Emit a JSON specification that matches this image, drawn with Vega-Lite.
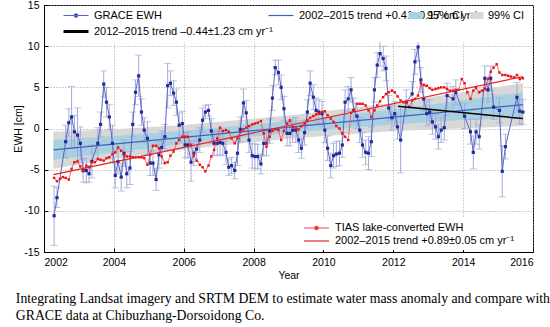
{
  "$schema": "https://vega.github.io/schema/vega-lite/v6.json",
  "width": 489,
  "height": 247,
  "autosize": {"type": "none"},
  "padding": {"left": 44, "top": 5, "right": 17, "bottom": 75},
  "background": "white",
  "view": {"stroke": "black", "strokeWidth": 1},
  "config": {
    "font": "Liberation Sans",
    "axis": {"labelFont": "Liberation Sans", "labelFontSize": 10.5, "labelColor": "black", "titleFont": "Liberation Sans", "titleFontSize": 10.5, "titleFontWeight": "normal", "titleColor": "black", "domainColor": "black", "tickColor": "black", "tickSize": -4, "labelPadding": 9, "grid": true, "gridColor": "#a0a0a0", "gridDash": [1, 2], "gridWidth": 1}
  },
  "title": {
    "text": ["Integrating Landsat imagery and SRTM DEM to estimate water mass anomaly and compare with", "GRACE data at Chibuzhang-Dorsoidong Co."],
    "orient": "bottom", "anchor": "start", "dx": 2, "offset": 11,
    "font": "Liberation Serif", "fontSize": 13.75, "fontWeight": "normal", "color": "black", "lineHeight": 17
  },
  "datasets": {
    "grace": [
      {"t":2002.29,"v":-10.6,"e":3.6},{"t":2002.37,"v":-8.4,"e":1.2},{"t":2002.62,"v":-1.6,"e":2.0},{"t":2002.71,"v":0.7,"e":1.7},{"t":2002.79,"v":1.4,"e":3.7},{"t":2002.87,"v":-0.4,"e":2.0},{"t":2002.96,"v":-0.8,"e":3.3},
      {"t":2003.04,"v":-1.8,"e":2.0},{"t":2003.12,"v":-5.1,"e":1.4},{"t":2003.21,"v":-5.1,"e":1.5},{"t":2003.29,"v":-5.5,"e":1.0},{"t":2003.37,"v":-4.0,"e":2.0},{"t":2003.54,"v":-1.8,"e":1.9},{"t":2003.62,"v":0.5,"e":1.5},{"t":2003.71,"v":5.4,"e":1.6},{"t":2003.79,"v":3.2,"e":1.8},{"t":2003.87,"v":1.4,"e":1.5},{"t":2003.96,"v":-1.8,"e":2.2},
      {"t":2004.04,"v":-5.7,"e":1.5},{"t":2004.12,"v":-4.0,"e":1.5},{"t":2004.21,"v":-5.9,"e":1.7},{"t":2004.29,"v":-3.0,"e":1.6},{"t":2004.37,"v":-5.5,"e":1.7},{"t":2004.46,"v":-4.8,"e":2.0},{"t":2004.54,"v":0.5,"e":1.5},{"t":2004.62,"v":4.4,"e":1.5},{"t":2004.71,"v":6.4,"e":2.5},{"t":2004.79,"v":2.0,"e":1.6},{"t":2004.87,"v":-0.2,"e":1.5},{"t":2004.96,"v":-1.2,"e":2.0},
      {"t":2005.04,"v":-4.2,"e":1.5},{"t":2005.12,"v":-4.2,"e":1.5},{"t":2005.21,"v":-6.2,"e":1.3},{"t":2005.29,"v":-3.2,"e":1.6},{"t":2005.37,"v":-2.3,"e":2.0},{"t":2005.46,"v":-1.0,"e":1.5},{"t":2005.54,"v":5.2,"e":2.7},{"t":2005.62,"v":5.5,"e":1.5},{"t":2005.71,"v":4.3,"e":1.5},{"t":2005.79,"v":3.2,"e":1.6},{"t":2005.87,"v":0.4,"e":1.5},{"t":2005.96,"v":0.6,"e":1.5},
      {"t":2006.04,"v":-2.0,"e":1.5},{"t":2006.12,"v":-2.0,"e":1.6},{"t":2006.21,"v":-4.1,"e":2.3},{"t":2006.29,"v":-3.0,"e":1.5},{"t":2006.37,"v":-2.5,"e":1.5},{"t":2006.46,"v":-1.4,"e":1.5},{"t":2006.54,"v":1.0,"e":1.5},{"t":2006.62,"v":2.0,"e":0.8},{"t":2006.71,"v":2.2,"e":0.7},{"t":2006.79,"v":-0.3,"e":1.5},{"t":2006.87,"v":-1.8,"e":1.5},{"t":2006.96,"v":-1.8,"e":1.5},
      {"t":2007.04,"v":-1.7,"e":1.5},{"t":2007.12,"v":-1.8,"e":1.5},{"t":2007.21,"v":-2.9,"e":1.5},{"t":2007.29,"v":-4.7,"e":1.0},{"t":2007.37,"v":-4.5,"e":1.0},{"t":2007.46,"v":-5.1,"e":1.0},{"t":2007.54,"v":-3.0,"e":1.5},{"t":2007.62,"v":-0.1,"e":1.5},{"t":2007.71,"v":3.1,"e":1.7},{"t":2007.79,"v":1.9,"e":1.5},{"t":2007.87,"v":-1.4,"e":1.5},{"t":2007.96,"v":-3.3,"e":1.5},
      {"t":2008.04,"v":-3.4,"e":1.5},{"t":2008.12,"v":-3.4,"e":1.5},{"t":2008.21,"v":-4.3,"e":1.2},{"t":2008.29,"v":-1.8,"e":1.5},{"t":2008.37,"v":-1.8,"e":1.5},{"t":2008.46,"v":-0.3,"e":1.5},{"t":2008.54,"v":3.7,"e":1.5},{"t":2008.62,"v":7.4,"e":0.9},{"t":2008.71,"v":6.8,"e":1.5},{"t":2008.79,"v":5.0,"e":1.5},{"t":2008.87,"v":2.4,"e":1.5},{"t":2008.96,"v":-0.6,"e":1.5},
      {"t":2009.04,"v":-0.6,"e":1.5},{"t":2009.12,"v":-0.2,"e":1.5},{"t":2009.21,"v":-0.2,"e":1.5},{"t":2009.29,"v":-1.4,"e":1.5},{"t":2009.37,"v":-2.4,"e":1.2},{"t":2009.46,"v":-0.5,"e":1.5},{"t":2009.54,"v":2.0,"e":1.5},{"t":2009.62,"v":5.5,"e":1.5},{"t":2009.71,"v":3.8,"e":1.5},{"t":2009.79,"v":2.2,"e":1.5},{"t":2009.87,"v":2.0,"e":1.5},{"t":2009.96,"v":1.8,"e":1.5},
      {"t":2010.04,"v":-0.2,"e":1.5},{"t":2010.12,"v":-2.4,"e":1.5},{"t":2010.21,"v":-4.5,"e":1.5},{"t":2010.29,"v":-3.3,"e":1.5},{"t":2010.37,"v":-3.1,"e":1.5},{"t":2010.46,"v":-3.0,"e":1.5},{"t":2010.54,"v":-2.0,"e":1.5},{"t":2010.62,"v":3.2,"e":1.5},{"t":2010.71,"v":3.6,"e":1.5},{"t":2010.79,"v":4.7,"e":1.5},{"t":2010.87,"v":2.2,"e":1.5},{"t":2010.96,"v":1.5,"e":1.5},
      {"t":2011.04,"v":-0.2,"e":1.5},{"t":2011.12,"v":-2.0,"e":1.5},{"t":2011.21,"v":-2.9,"e":1.5},{"t":2011.29,"v":-3.0,"e":2.0},{"t":2011.37,"v":-1.6,"e":1.8},{"t":2011.46,"v":4.7,"e":1.5},{"t":2011.54,"v":7.7,"e":1.5},{"t":2011.62,"v":9.1,"e":1.5},{"t":2011.71,"v":8.5,"e":1.5},{"t":2011.79,"v":7.3,"e":1.5},{"t":2011.87,"v":2.5,"e":1.5},{"t":2011.96,"v":1.3,"e":1.5},
      {"t":2012.04,"v":1.8,"e":1.5},{"t":2012.12,"v":0.2,"e":1.5},{"t":2012.21,"v":-1.4,"e":4.0},{"t":2012.37,"v":3.2,"e":1.5},{"t":2012.54,"v":4.2,"e":1.5},{"t":2012.62,"v":8.1,"e":1.5},{"t":2012.71,"v":9.9,"e":1.7},{"t":2012.79,"v":5.9,"e":1.5},{"t":2012.87,"v":3.6,"e":1.5},{"t":2012.96,"v":1.8,"e":1.5},
      {"t":2013.04,"v":2.0,"e":1.5},{"t":2013.12,"v":0.8,"e":1.5},{"t":2013.21,"v":0.2,"e":1.5},{"t":2013.29,"v":-1.0,"e":1.5},{"t":2013.37,"v":-0.2,"e":1.5},{"t":2013.46,"v":0.1,"e":1.5},{"t":2013.54,"v":4.0,"e":1.5},{"t":2013.71,"v":3.6,"e":1.5},{"t":2013.79,"v":4.4,"e":1.5},
      {"t":2014.04,"v":1.5,"e":1.5},{"t":2014.21,"v":-0.4,"e":1.5},{"t":2014.29,"v":-2.9,"e":2.0},{"t":2014.37,"v":-0.4,"e":1.5},{"t":2014.46,"v":-1.0,"e":1.5},{"t":2014.62,"v":6.1,"e":1.5},{"t":2014.71,"v":4.7,"e":1.5},{"t":2014.79,"v":6.1,"e":1.5},{"t":2014.87,"v":2.6,"e":1.5},
      {"t":2015.04,"v":2.2,"e":1.5},{"t":2015.12,"v":-5.2,"e":3.1},{"t":2015.21,"v":-2.2,"e":1.5},{"t":2015.54,"v":3.8,"e":1.8},{"t":2015.62,"v":2.1,"e":1.5},{"t":2015.71,"v":2.0,"e":1.5}
    ],
    "tias": [
      {"t":2002.29,"v":-6.0},{"t":2002.37,"v":-6.4},{"t":2002.46,"v":-6.1},{"t":2002.54,"v":-5.9},{"t":2002.62,"v":-6.0},{"t":2002.71,"v":-6.2},{"t":2002.79,"v":-4.9},{"t":2002.87,"v":-4.1},{"t":2002.96,"v":-4.0},
      {"t":2003.04,"v":-4.6},{"t":2003.12,"v":-5.2},{"t":2003.21,"v":-4.5},{"t":2003.29,"v":-4.7},{"t":2003.37,"v":-4.1},{"t":2003.46,"v":-4.1},{"t":2003.54,"v":-3.7},{"t":2003.62,"v":-3.8},{"t":2003.71,"v":-3.9},{"t":2003.79,"v":-3.6},{"t":2003.87,"v":-3.5},{"t":2003.96,"v":-3.1},
      {"t":2004.04,"v":-2.9},{"t":2004.12,"v":-2.3},{"t":2004.21,"v":-2.7},{"t":2004.29,"v":-3.2},{"t":2004.37,"v":-3.4},{"t":2004.46,"v":-3.4},{"t":2004.54,"v":-3.5},{"t":2004.62,"v":-3.5},{"t":2004.71,"v":-3.5},{"t":2004.79,"v":-3.5},{"t":2004.87,"v":-3.6},{"t":2004.96,"v":-4.4},
      {"t":2005.04,"v":-3.2},{"t":2005.12,"v":-2.1},{"t":2005.21,"v":-2.1},{"t":2005.29,"v":-2.4},{"t":2005.37,"v":-3.4},{"t":2005.46,"v":-4.2},{"t":2005.54,"v":-4.1},{"t":2005.62,"v":-3.3},{"t":2005.71,"v":-2.8},{"t":2005.79,"v":-1.8},{"t":2005.87,"v":-1.4},{"t":2005.96,"v":-1.0},
      {"t":2006.04,"v":-1.0},{"t":2006.12,"v":-1.0},{"t":2006.21,"v":-2.0},{"t":2006.29,"v":-3.3},{"t":2006.37,"v":-3.9},{"t":2006.46,"v":-4.4},{"t":2006.54,"v":-4.7},{"t":2006.62,"v":-5.2},{"t":2006.71,"v":-4.5},{"t":2006.79,"v":-3.4},{"t":2006.87,"v":-2.6},{"t":2006.96,"v":-1.2},
      {"t":2007.04,"v":0.1},{"t":2007.12,"v":-0.3},{"t":2007.21,"v":-0.2},{"t":2007.29,"v":-0.4},{"t":2007.37,"v":-1.2},{"t":2007.46,"v":-1.8},{"t":2007.54,"v":-1.2},{"t":2007.62,"v":-0.4},{"t":2007.71,"v":-0.1},{"t":2007.79,"v":0.1},{"t":2007.87,"v":0.3},{"t":2007.96,"v":0.5},
      {"t":2008.04,"v":0.6},{"t":2008.12,"v":0.7},{"t":2008.21,"v":0.9},{"t":2008.29,"v":-0.6},{"t":2008.37,"v":-2.2},{"t":2008.46,"v":-1.0},{"t":2008.54,"v":-0.3},{"t":2008.62,"v":-0.1},{"t":2008.71,"v":-0.2},{"t":2008.79,"v":-1.4},{"t":2008.87,"v":-0.3},{"t":2008.96,"v":0.6},
      {"t":2009.04,"v":1.0},{"t":2009.12,"v":0.2},{"t":2009.21,"v":0.0},{"t":2009.29,"v":-0.1},{"t":2009.37,"v":0.3},{"t":2009.46,"v":0.6},{"t":2009.54,"v":1.0},{"t":2009.62,"v":1.3},{"t":2009.71,"v":1.5},{"t":2009.79,"v":1.7},{"t":2009.87,"v":1.8},{"t":2009.96,"v":2.0},
      {"t":2010.04,"v":2.1},{"t":2010.12,"v":1.6},{"t":2010.21,"v":1.2},{"t":2010.29,"v":0.8},{"t":2010.37,"v":0.3},{"t":2010.46,"v":0.0},{"t":2010.54,"v":-0.6},{"t":2010.62,"v":-1.0},{"t":2010.71,"v":-1.4},{"t":2010.79,"v":1.9},{"t":2010.87,"v":2.2},{"t":2010.96,"v":3.0},
      {"t":2011.04,"v":3.0},{"t":2011.12,"v":3.0},{"t":2011.21,"v":2.8},{"t":2011.29,"v":2.2},{"t":2011.37,"v":1.4},{"t":2011.46,"v":2.2},{"t":2011.54,"v":2.8},{"t":2011.62,"v":3.3},{"t":2011.71,"v":3.8},{"t":2011.79,"v":4.2},{"t":2011.87,"v":4.4},{"t":2011.96,"v":4.6},
      {"t":2012.04,"v":4.4},{"t":2012.12,"v":3.9},{"t":2012.21,"v":3.4},{"t":2012.29,"v":3.2},{"t":2012.37,"v":3.2},{"t":2012.46,"v":2.6},{"t":2012.54,"v":3.4},{"t":2012.62,"v":3.6},{"t":2012.71,"v":4.0},{"t":2012.79,"v":5.5},{"t":2012.87,"v":5.3},{"t":2012.96,"v":5.2},
      {"t":2013.04,"v":4.9},{"t":2013.12,"v":4.7},{"t":2013.21,"v":4.8},{"t":2013.29,"v":4.9},{"t":2013.37,"v":5.0},{"t":2013.46,"v":5.0},{"t":2013.54,"v":4.8},{"t":2013.62,"v":4.6},{"t":2013.71,"v":4.6},{"t":2013.79,"v":4.7},{"t":2013.87,"v":4.7},{"t":2013.96,"v":6.0},
      {"t":2014.04,"v":5.5},{"t":2014.12,"v":4.4},{"t":2014.21,"v":3.6},{"t":2014.29,"v":4.6},{"t":2014.37,"v":4.9},{"t":2014.46,"v":4.4},{"t":2014.54,"v":4.6},{"t":2014.62,"v":4.8},{"t":2014.71,"v":6.0},{"t":2014.79,"v":6.9},{"t":2014.87,"v":7.4},{"t":2014.96,"v":7.8},
      {"t":2015.04,"v":6.8},{"t":2015.12,"v":6.5},{"t":2015.21,"v":6.5},{"t":2015.29,"v":6.4},{"t":2015.37,"v":6.3},{"t":2015.46,"v":6.2},{"t":2015.54,"v":6.5},{"t":2015.62,"v":6.0},{"t":2015.71,"v":6.1}
    ],
    "bands": [
      {"t":2002.27,"lo95":-3.8,"hi95":-1.4,"lo99":-4.9,"hi99":-0.4},
      {"t":2004.0,"lo95":-2.9,"hi95":-0.9,"lo99":-3.7,"hi99":-0.1},
      {"t":2006.0,"lo95":-1.86,"hi95":-0.26,"lo99":-2.56,"hi99":0.44},
      {"t":2009.0,"lo95":-0.53,"hi95":0.87,"lo99":-1.23,"hi99":1.57},
      {"t":2012.0,"lo95":0.5,"hi95":2.3,"lo99":-0.3,"hi99":3.1},
      {"t":2014.0,"lo95":1.02,"hi95":3.42,"lo99":0.02,"hi99":4.42},
      {"t":2015.71,"lo95":1.4,"hi95":4.4,"lo99":0.3,"hi99":5.5}
    ]
  },
  "layer": [
    {
      "data": {"name": "bands"},
      "mark": {"type": "area", "color": "#d8d8d8", "opacity": 1},
      "encoding": {
        "x": {"field": "t", "type": "quantitative", "title": "Year", "scale": {"domain": [2002, 2016], "nice": false, "zero": false},
              "axis": {"values": [2002, 2004, 2006, 2008, 2010, 2012, 2014, 2016], "labelExpr": "datum.value + ''", "titlePadding": 3}},
        "y": {"field": "lo99", "type": "quantitative", "title": "EWH [cm]", "scale": {"domain": [-15, 15], "nice": false, "zero": false},
              "axis": {"values": [-15, -10, -5, 0, 5, 10, 15], "labelExpr": "datum.value + ''", "titlePadding": 0}},
        "y2": {"field": "hi99"}
      }
    },
    {
      "data": {"name": "bands"},
      "mark": {"type": "area", "color": "#a8d0e0", "opacity": 1},
      "encoding": {
        "x": {"field": "t", "type": "quantitative", "title": "Year"},
        "y": {"field": "lo95", "type": "quantitative", "title": "EWH [cm]"},
        "y2": {"field": "hi95"}
      }
    },
    {
      "data": {"name": "grace"},
      "mark": {"type": "errorbar", "color": "#a3a9d6", "thickness": 1, "ticks": {"size": 7}},
      "encoding": {
        "x": {"field": "t", "type": "quantitative", "title": "Year"},
        "y": {"field": "v", "type": "quantitative", "title": "EWH [cm]"},
        "yError": {"field": "e"}
      }
    },
    {
      "data": {"name": "grace"},
      "mark": {"type": "line", "strokeWidth": 1},
      "encoding": {
        "x": {"field": "t", "type": "quantitative", "title": "Year"},
        "y": {"field": "v", "type": "quantitative", "title": "EWH [cm]"},
        "color": {"datum": "GRACE EWH", "type": "nominal",
          "scale": {"domain": ["GRACE EWH", "2002–2015 trend +0.41±0.17 cm yr⁻¹", "2012–2015 trend –0.44±1.23 cm yr⁻¹"],
                    "range": ["#5a66c6", "#3f62c2", "#000000"]},
          "legend": {
            "orient": "none", "legendX": 15, "legendY": 1, "direction": "horizontal", "columns": 2, "gridAlign": "none",
            "title": null, "labelFont": "Liberation Sans", "labelFontSize": 11, "labelColor": "black", "labelLimit": 400,
            "symbolSize": 100, "labelOffset": 20, "columnPadding": -7, "rowPadding": 4, "fillColor": "white", "padding": 4,
            "encode": {"symbols": {"update": {
              "shape": {"signal": "datum.value === 'GRACE EWH' ? 'M-1,0H4M1.15,0A0.35,0.35,0,1,0,1.85,0A0.35,0.35,0,1,0,1.15,0Z' : 'M-1,0H4'"},
              "size": {"value": 100},
              "fill": {"signal": "datum.value === 'GRACE EWH' ? '#1f2a9a' : 'transparent'"},
              "stroke": {"signal": "datum.value === 'GRACE EWH' ? '#5a66c6' : datum.value === '2012–2015 trend –0.44±1.23 cm yr⁻¹' ? '#000000' : '#3f62c2'"},
              "strokeWidth": {"signal": "datum.value === '2012–2015 trend –0.44±1.23 cm yr⁻¹' ? 3 : 1.2"},
              "opacity": {"value": 1}
            }}}
          }}
      }
    },
    {
      "data": {"values": [{"t": 2002.27, "v": -2.6}, {"t": 2015.71, "v": 2.9}]},
      "mark": {"type": "line", "strokeWidth": 1.2},
      "encoding": {
        "x": {"field": "t", "type": "quantitative", "title": "Year"},
        "y": {"field": "v", "type": "quantitative", "title": "EWH [cm]"},
        "color": {"datum": "2002–2015 trend +0.41±0.17 cm yr⁻¹", "type": "nominal", "legend": null}
      }
    },
    {
      "data": {"name": "grace"},
      "mark": {"type": "square", "size": 10, "color": "#1f2a9a", "opacity": 1},
      "encoding": {
        "x": {"field": "t", "type": "quantitative", "title": "Year"},
        "y": {"field": "v", "type": "quantitative", "title": "EWH [cm]"}
      }
    },
    {
      "data": {"name": "tias"},
      "mark": {"type": "line", "strokeWidth": 0.8},
      "encoding": {
        "x": {"field": "t", "type": "quantitative", "title": "Year"},
        "y": {"field": "v", "type": "quantitative", "title": "EWH [cm]"},
        "stroke": {"datum": "TIAS lake-converted EWH", "type": "nominal",
          "scale": {"domain": ["TIAS lake-converted EWH", "2002–2015 trend +0.89±0.05 cm yr⁻¹"], "range": ["#f04848", "#e82020"]},
          "legend": {
            "orient": "none", "legendX": 255, "legendY": 213, "direction": "vertical",
            "title": null, "labelFont": "Liberation Sans", "labelFontSize": 11, "labelColor": "black", "labelLimit": 400,
            "symbolSize": 100, "labelOffset": 20, "rowPadding": 2, "fillColor": "white", "padding": 4,
            "encode": {"symbols": {"update": {
              "shape": {"signal": "datum.value === 'TIAS lake-converted EWH' ? 'M-1,0H4M1.15,0A0.35,0.35,0,1,0,1.85,0A0.35,0.35,0,1,0,1.15,0Z' : 'M-1,0H4'"},
              "size": {"value": 100},
              "fill": {"signal": "datum.value === 'TIAS lake-converted EWH' ? '#e81010' : 'transparent'"},
              "stroke": {"signal": "datum.value === 'TIAS lake-converted EWH' ? '#f04848' : '#c81818'"},
              "strokeWidth": {"value": 1.2},
              "opacity": {"value": 1}
            }}}
          }}
      }
    },
    {
      "data": {"name": "tias"},
      "mark": {"type": "square", "size": 6, "color": "#ee1111", "opacity": 1},
      "encoding": {
        "x": {"field": "t", "type": "quantitative", "title": "Year"},
        "y": {"field": "v", "type": "quantitative", "title": "EWH [cm]"}
      }
    },
    {
      "data": {"values": [{"t": 2002.27, "v": -5.6}, {"t": 2015.71, "v": 6.3}]},
      "mark": {"type": "line", "strokeWidth": 1.2},
      "encoding": {
        "x": {"field": "t", "type": "quantitative", "title": "Year"},
        "y": {"field": "v", "type": "quantitative", "title": "EWH [cm]"},
        "stroke": {"datum": "2002–2015 trend +0.89±0.05 cm yr⁻¹", "type": "nominal", "legend": null}
      }
    },
    {
      "data": {"values": [{"t": 2012.14, "v": 2.7}, {"t": 2015.71, "v": 1.2}]},
      "mark": {"type": "line", "strokeWidth": 1.5},
      "encoding": {
        "x": {"field": "t", "type": "quantitative", "title": "Year"},
        "y": {"field": "v", "type": "quantitative", "title": "EWH [cm]"},
        "color": {"datum": "2012–2015 trend –0.44±1.23 cm yr⁻¹", "type": "nominal", "legend": null},
        "fill": {"datum": "95% CI", "type": "nominal",
          "scale": {"domain": ["95% CI", "99% CI"], "range": ["#a8d0e0", "#d8d8d8"]},
          "legend": {
            "orient": "none", "legendX": 348, "legendY": 1, "direction": "horizontal", "columns": 2, "gridAlign": "none",
            "title": null, "labelFont": "Liberation Sans", "labelFontSize": 11, "labelColor": "black", "labelLimit": 400,
            "symbolSize": 100, "symbolType": "M1.4,-0.7H4.2V0.7H1.4Z", "symbolStrokeWidth": 0, "symbolStrokeColor": "transparent",
            "labelOffset": 20, "columnPadding": -7, "fillColor": "transparent", "padding": 4,
            "encode": {"symbols": {"update": {
              "shape": {"signal": "'M1.4,-0.7H4.2V0.7H1.4Z'"},
              "size": {"value": 100},
              "fill": {"signal": "datum.value === '95% CI' ? '#a8d0e0' : '#d8d8d8'"},
              "stroke": {"signal": "'transparent'"},
              "strokeWidth": {"signal": "0"},
              "opacity": {"value": 1}
            }}}
          }}
      }
    }
  ]
}
